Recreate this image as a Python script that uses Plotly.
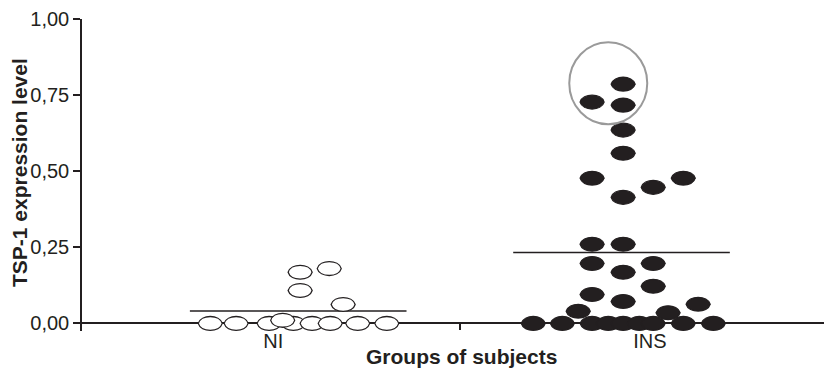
import numpy as np
import plotly.graph_objects as go

# ---------------- data ----------------
groups = ["NI", "INS"]
group_pos = [1.0, 2.0]            # column centres of the dot clouds
label_pos = [0.923, 2.088]        # where the category labels sit

ni_values = [0.180, 0.168, 0.108, 0.062, 0.010,
             0, 0, 0, 0, 0, 0, 0, 0]
ni_offsets = [0.096, 0.006, 0.006, 0.139, -0.048,
              -0.272, -0.192, -0.090, -0.015, 0.043, 0.099, 0.184, 0.274]

ins_values = [0.786, 0.727, 0.717, 0.635, 0.559, 0.477, 0.477, 0.447, 0.414,
              0.260, 0.260, 0.197, 0.197, 0.168, 0.122, 0.095, 0.072, 0.063,
              0.040, 0.035,
              0, 0, 0, 0, 0, 0, 0, 0, 0]
ins_offsets = [0.005, -0.091, 0.005, 0.005, 0.005, -0.091, 0.191, 0.098, 0.005,
               -0.091, 0.005, -0.091, 0.098, 0.005, 0.098, -0.091, 0.005, 0.237,
               -0.134, 0.144,
               -0.273, -0.183, -0.091, -0.041, 0.005, 0.055, 0.098, 0.191, 0.284]

y_ticks = [0, 0.25, 0.5, 0.75, 1.0]
y_title = "TSP-1 expression level"
x_title = "Groups of subjects"
highlight_center = (-0.041, 0.789)   # grey ring around the top INS values (offset, value)

# ---------------- styling ----------------
INK = "#231f20"
FONT = "Liberation Sans, Arial, Helvetica, sans-serif"
MEAN_HALF = 0.335
Y_MIN = -0.025
OFF = 8                    # page body margin of the exported html
W, H = 832 - OFF, 368 - OFF

fig = go.Figure()

series = [
    (groups[0], group_pos[0], ni_values, ni_offsets, "white"),
    (groups[1], group_pos[1], ins_values, ins_offsets, INK),
]

shapes = []
LEMON = "M -12,0 C -9.5,9.2 9.5,9.2 12,0 C 9.5,-9.2 -9.5,-9.2 -12,0 Z"
for name, pos, vals, offs, fill in series:
    xs = [pos + o for o in offs]
    # invisible carrier trace for the points (hover / data binding)
    fig.add_trace(go.Scatter(x=xs, y=vals, mode="markers", name=name,
                             marker=dict(size=12, opacity=0), showlegend=False,
                             cliponaxis=False))
    # mean line
    m = float(np.mean(vals))
    fig.add_trace(go.Scatter(x=[pos - MEAN_HALF, pos + MEAN_HALF], y=[m, m],
                             mode="lines", line=dict(color=INK, width=1.6),
                             showlegend=False, hoverinfo="skip"))
    # lemon-shaped markers, drawn lowest first so raised points overlap
    order = sorted(range(len(vals)), key=lambda i: vals[i])
    for i in order:
        shapes.append(dict(type="path", xref="x", yref="y",
                           xsizemode="pixel", ysizemode="pixel",
                           xanchor=xs[i], yanchor=vals[i], path=LEMON,
                           fillcolor=fill,
                           line=dict(color=INK, width=1.3), layer="above"))

# grey highlight ring
shapes.append(dict(type="circle", xref="x", yref="y",
                   xsizemode="pixel", ysizemode="pixel",
                   xanchor=group_pos[1] + highlight_center[0],
                   yanchor=highlight_center[1],
                   x0=-39, x1=39, y0=-41, y1=41,
                   line=dict(color="#9a9a9a", width=2), fillcolor="rgba(0,0,0,0)",
                   layer="above"))

# page-pixel layout of the reference
L = 82 - OFF
T = 19 - OFF
B = 368 - 331
PH = H - T - B
PW = W - L

def px_to_paper_x(px):
    return (px - OFF - L) / PW

def px_to_paper_y(py):
    return (H - B - (py - OFF)) / PH

annotations = [
    dict(text=f"<b>{y_title}</b>", xref="paper", yref="paper",
         x=px_to_paper_x(19), y=px_to_paper_y(173), xanchor="center", yanchor="middle",
         textangle=-90, showarrow=False, font=dict(size=21, family=FONT, color=INK)),
    dict(text=f"<b>{x_title}</b>", xref="paper", yref="paper",
         x=px_to_paper_x(461), y=px_to_paper_y(356), xanchor="center", yanchor="middle",
         showarrow=False, font=dict(size=21, family=FONT, color=INK)),
]

fig.update_layout(
    width=W, height=H,
    margin=dict(l=L, r=0, t=T, b=B, autoexpand=False),
    plot_bgcolor="white", paper_bgcolor="white",
    showlegend=False, separators=",.",
    font=dict(family=FONT, color=INK, size=20),
    shapes=shapes, annotations=annotations,
    xaxis=dict(
        range=[0.3313, 2.651], anchor="free", position=(0 - Y_MIN) / (1.0 - Y_MIN),
        automargin=False,
        showline=True, linecolor=INK, linewidth=1.5,
        showgrid=False, zeroline=False,
        tickmode="array", tickvals=label_pos, ticktext=groups, ticks="",
        tickfont=dict(size=20, family=FONT, color=INK),
        minor=dict(tickmode="array", tickvals=[1.5], ticks="outside",
                   ticklen=6, tickwidth=1.5, tickcolor=INK, showgrid=False),
    ),
    yaxis=dict(
        range=[Y_MIN, 1.0], automargin=False,
        showline=True, linecolor=INK, linewidth=1.5,
        showgrid=False, zeroline=False,
        tickmode="array", tickvals=y_ticks, tickformat=".2f",
        ticks="outside", ticklen=7, tickwidth=1.5, tickcolor=INK,
        tickfont=dict(size=20, family=FONT, color=INK),
    ),
)

fig.write_html("out.html")
